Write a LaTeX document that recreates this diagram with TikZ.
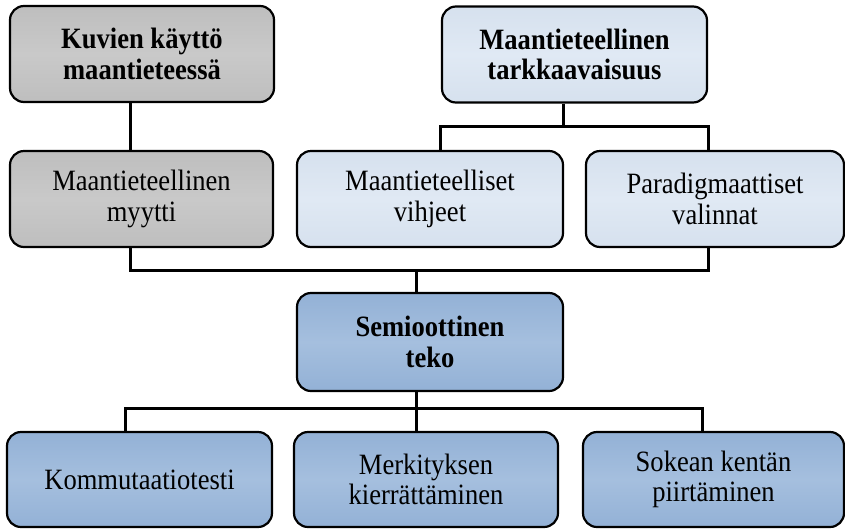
\documentclass[tikz,border=0pt]{standalone}
\usepackage{fontspec}
\setmainfont[FakeStretch=0.9]{Liberation Serif}
\usepackage{xcolor}
\definecolor{greyedge}{HTML}{BEBEBE}
\definecolor{greymid}{HTML}{C9C9C9}
\definecolor{paleedge}{HTML}{D6E1EE}
\definecolor{palemid}{HTML}{E0E9F4}
\definecolor{blueedge}{HTML}{93B1D6}
\definecolor{bluemid}{HTML}{A5BFDE}

\begin{document}
\begin{tikzpicture}[x=1pt,y=-1pt,
  box/.style={rectangle, rounded corners=14pt, draw, line width=2.2pt, align=center, inner sep=0pt, minimum height=96pt, font=\fontsize{29.5}{30.5}\selectfont},
  greybox/.style={box, top color=greyedge, bottom color=greyedge, middle color=greymid},
  palebox/.style={box, top color=paleedge, bottom color=paleedge, middle color=palemid},
  bluebox/.style={box, top color=blueedge, bottom color=blueedge, middle color=bluemid},
  link/.style={line width=3pt}]
\useasboundingbox (0,0) rectangle (845,528);
% top row
\node (kuvien) [greybox, minimum width=264pt] at (142,54) {\textbf{Kuvien käyttö}\\\textbf{maantieteessä}};
\node (tarkkaavaisuus) [palebox, minimum width=265pt] at (574.5,54.5) {\textbf{Maantieteellinen}\\\textbf{tarkkaavaisuus}};
% second row
\node (myytti) [greybox, minimum width=263pt] at (141.5,199) {Maantieteellinen\\myytti};
\node (vihjeet) [palebox, minimum width=266pt] at (430,199) {Maantieteelliset\\vihjeet};
\node (valinnat) [palebox, minimum width=258pt] at (715,199) {Paradigmaattiset\\valinnat};
% middle
\node (teko) [bluebox, minimum width=266pt, minimum height=98pt] at (430,342) {\textbf{Semioottinen}\\\textbf{teko}};
% bottom row
\node (kommutaatio) [bluebox, minimum width=265pt, minimum height=95pt] at (139.5,479.5) {Kommutaatiotesti};
\node (kierratys) [bluebox, minimum width=264pt, minimum height=95pt] at (426,479.5) {Merkityksen\\kierrättäminen};
\node (sokea) [bluebox, minimum width=261pt, minimum height=95pt] at (713.5,479.5) {Sokean kentän\\piirtäminen};

\coordinate (leftbus) at (130,270);
\coordinate (topbus) at (563,126);
\coordinate (midbus) at (416,270);
\coordinate (lowbus) at (416,408);
\coordinate (lowleft) at (125,408);
\coordinate (lowright) at (702,408);

\draw[link] (kuvien.south -| leftbus) -- (myytti.north -| leftbus);
\draw[link] (tarkkaavaisuus.south -| topbus) -- (topbus);
\draw[link] (vihjeet.north -| tarkkaavaisuus.west) |- (topbus) -| (valinnat.north -| tarkkaavaisuus.east);
\draw[link] (myytti.south -| leftbus) -- (leftbus) -| (valinnat.south -| tarkkaavaisuus.east);
\draw[link] (midbus) -- (teko.north -| midbus);
\draw[link] (teko.south -| lowbus) -- (kierratys.north -| lowbus);
\draw[link] (kommutaatio.north -| lowleft) -- (lowleft) -- (lowright) -- (sokea.north -| lowright);
\end{tikzpicture}
\end{document}
